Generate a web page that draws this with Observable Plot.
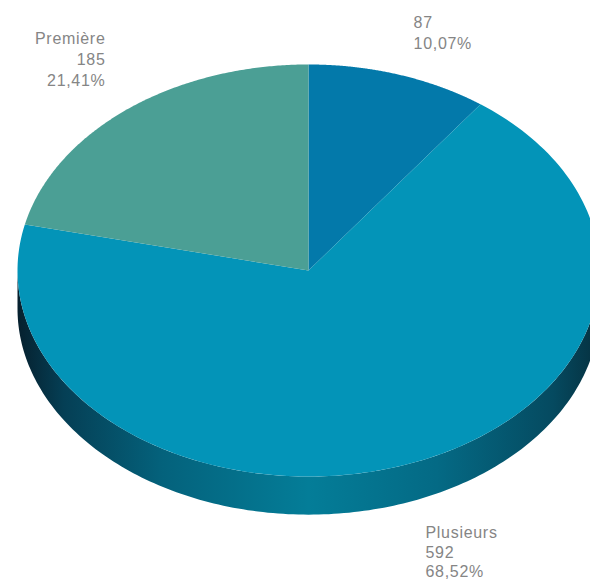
<!DOCTYPE html>
<html>
<head>
<meta charset="utf-8">
<script src="https://cdn.jsdelivr.net/npm/d3@7"></script>
<script src="https://cdn.jsdelivr.net/npm/@observablehq/plot@0.6"></script>
<style>
  html, body { margin: 0; padding: 0; background: #fff; }
  svg { display: block; }
  svg text { letter-spacing: 0.7px; }
</style>
</head>
<body>
<script>
// Répartition des réponses
const categories = ["", "Plusieurs", "Première"];
const counts = [87, 592, 185];
const percents = ["10,07%", "68,52%", "21,41%"];
const sliceColors = ["#0379aa", "#0394b8", "#4b9f95"];

// Tilted disc proportions, in plot units (disc half-width = 1)
const tilt = 0.708;
const depth = 0.131;

const total = d3.sum(counts);
const cumulative = d3.cumsum(counts);
const steps = 180;

// Point on the rim; angle runs clockwise from twelve o'clock
const rim = (a, drop = 0) => [Math.sin(a), Math.cos(a) * tilt - drop];

const slices = counts.flatMap((c, i) => {
  const a0 = ((cumulative[i] - c) / total) * 2 * Math.PI;
  const a1 = (cumulative[i] / total) * 2 * Math.PI;
  const pts = [{x: 0, y: 0, slice: i}];
  for (let s = 0; s <= steps; ++s) {
    const [x, y] = rim(a0 + ((a1 - a0) * s) / steps);
    pts.push({x, y, slice: i});
  }
  return pts;
});

// Visible side wall: the lower half of the rim and its dropped copy
const wall = [];
for (let s = 0; s <= steps; ++s) {
  const [x, y] = rim(Math.PI / 2 + (Math.PI * s) / steps);
  wall.push({x, y});
}
for (let s = steps; s >= 0; --s) {
  const [x, y] = rim(Math.PI / 2 + (Math.PI * s) / steps, depth);
  wall.push({x, y});
}

const labelText = (i) => [categories[i], counts[i], percents[i]].join("\n");
const labelStyle = {
  x: "x",
  y: "y",
  text: "text",
  lineAnchor: "top",
  fontFamily: "Liberation Sans",
  fontSize: 16,
  fill: "#858585"
};

const defs = () => {
  const ns = "http://www.w3.org/2000/svg";
  const d = document.createElementNS(ns, "defs");
  const g = document.createElementNS(ns, "linearGradient");
  g.setAttribute("id", "wall-shade");
  [[0, "#06202e"], [0.08, "#053f55"], [0.25, "#04627c"], [0.5, "#047d98"], [0.72, "#046a85"], [0.92, "#054a60"], [1, "#06303f"]]
    .forEach(([o, c]) => {
      const st = document.createElementNS(ns, "stop");
      st.setAttribute("offset", o);
      st.setAttribute("stop-color", c);
      g.appendChild(st);
    });
  d.appendChild(g);
  return d;
};

const chart = Plot.plot({
  width: 590,
  height: 581,
  margin: 0,
  x: {domain: [-308 / 291, 282 / 291], range: [0, 590], axis: null},
  y: {domain: [-311 / 291, 270 / 291], range: [581, 0], axis: null},
  marks: [
    defs,
    Plot.line(wall, {x: "x", y: "y", fill: "url(#wall-shade)", stroke: "none", curve: "linear"}),
    Plot.line(slices, {x: "x", y: "y", z: "slice", fill: (d) => sliceColors[d.slice], stroke: "none", curve: "linear"}),
    // The first slice has no name, so its block starts with the count
    Plot.text([{x: 0.361, y: 0.886, text: [counts[0], percents[0]].join("\n")}], {
      ...labelStyle, textAnchor: "start", lineHeight: 1.31
    }),
    Plot.text([{x: -0.6976, y: 0.83, text: labelText(2)}], {
      ...labelStyle, textAnchor: "end", lineHeight: 1.31
    }),
    Plot.text([{x: 0.402, y: -0.872, text: labelText(1)}], {
      ...labelStyle, textAnchor: "start", lineHeight: 1.22
    })
  ]
});
document.body.appendChild(chart);
</script>
</body>
</html>
